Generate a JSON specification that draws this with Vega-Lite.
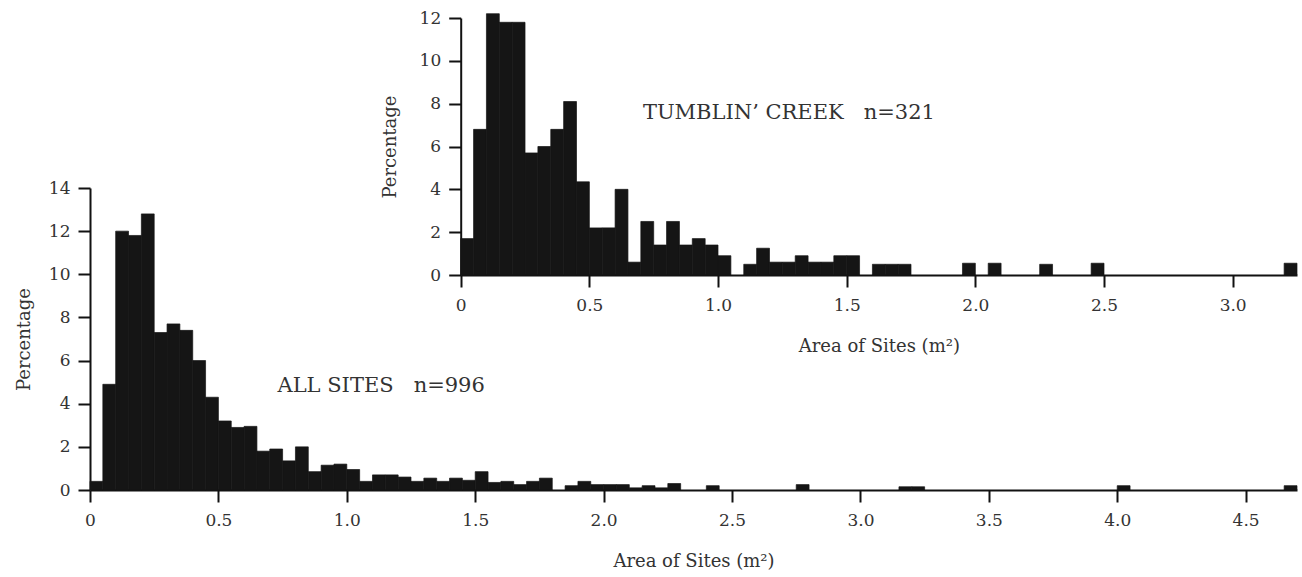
{
  "$schema": "https://vega.github.io/schema/vega-lite/v6.json",
  "width": 1207,
  "height": 472,
  "autosize": "none",
  "padding": {"left": 90, "top": 18, "right": 5, "bottom": 87},
  "background": "white",
  "config": {
    "view": {"stroke": null},
    "font": "DejaVu Serif",
    "axis": {
      "grid": false,
      "domainColor": "#111111",
      "domainWidth": 2,
      "tickColor": "#111111",
      "tickWidth": 2,
      "tickSize": 12,
      "labelFont": "DejaVu Serif",
      "labelFontSize": 17,
      "labelColor": "#333333",
      "labelFlush": false,
      "titleFont": "DejaVu Serif",
      "titleFontSize": 18,
      "titleFontWeight": "normal",
      "titleColor": "#333333"
    }
  },
  "datasets": {
    "all": [
      {"start": 0.00, "end": 0.05, "pct": 0.4},
      {"start": 0.05, "end": 0.10, "pct": 4.9},
      {"start": 0.10, "end": 0.15, "pct": 12.0},
      {"start": 0.15, "end": 0.20, "pct": 11.8},
      {"start": 0.20, "end": 0.25, "pct": 12.8},
      {"start": 0.25, "end": 0.30, "pct": 7.3},
      {"start": 0.30, "end": 0.35, "pct": 7.7},
      {"start": 0.35, "end": 0.40, "pct": 7.4},
      {"start": 0.40, "end": 0.45, "pct": 6.0},
      {"start": 0.45, "end": 0.50, "pct": 4.3},
      {"start": 0.50, "end": 0.55, "pct": 3.2},
      {"start": 0.55, "end": 0.60, "pct": 2.9},
      {"start": 0.60, "end": 0.65, "pct": 2.95},
      {"start": 0.65, "end": 0.70, "pct": 1.8},
      {"start": 0.70, "end": 0.75, "pct": 1.9},
      {"start": 0.75, "end": 0.80, "pct": 1.35},
      {"start": 0.80, "end": 0.85, "pct": 2.0},
      {"start": 0.85, "end": 0.90, "pct": 0.85},
      {"start": 0.90, "end": 0.95, "pct": 1.15},
      {"start": 0.95, "end": 1.00, "pct": 1.2},
      {"start": 1.00, "end": 1.05, "pct": 0.95},
      {"start": 1.05, "end": 1.10, "pct": 0.4},
      {"start": 1.10, "end": 1.15, "pct": 0.7},
      {"start": 1.15, "end": 1.20, "pct": 0.7},
      {"start": 1.20, "end": 1.25, "pct": 0.6},
      {"start": 1.25, "end": 1.30, "pct": 0.4},
      {"start": 1.30, "end": 1.35, "pct": 0.55},
      {"start": 1.35, "end": 1.40, "pct": 0.4},
      {"start": 1.40, "end": 1.45, "pct": 0.55},
      {"start": 1.45, "end": 1.50, "pct": 0.45},
      {"start": 1.50, "end": 1.55, "pct": 0.85},
      {"start": 1.55, "end": 1.60, "pct": 0.35},
      {"start": 1.60, "end": 1.65, "pct": 0.4},
      {"start": 1.65, "end": 1.70, "pct": 0.25},
      {"start": 1.70, "end": 1.75, "pct": 0.4},
      {"start": 1.75, "end": 1.80, "pct": 0.55},
      {"start": 1.85, "end": 1.90, "pct": 0.2},
      {"start": 1.90, "end": 1.95, "pct": 0.4},
      {"start": 1.95, "end": 2.00, "pct": 0.25},
      {"start": 2.00, "end": 2.05, "pct": 0.25},
      {"start": 2.05, "end": 2.10, "pct": 0.25},
      {"start": 2.10, "end": 2.15, "pct": 0.1},
      {"start": 2.15, "end": 2.20, "pct": 0.2},
      {"start": 2.20, "end": 2.25, "pct": 0.1},
      {"start": 2.25, "end": 2.30, "pct": 0.3},
      {"start": 2.40, "end": 2.45, "pct": 0.2},
      {"start": 2.75, "end": 2.80, "pct": 0.25},
      {"start": 3.15, "end": 3.20, "pct": 0.15},
      {"start": 3.20, "end": 3.25, "pct": 0.15},
      {"start": 4.00, "end": 4.05, "pct": 0.2},
      {"start": 4.65, "end": 4.70, "pct": 0.2}
    ],
    "tc": [
      {"start": 0.00, "end": 0.05, "pct": 1.7},
      {"start": 0.05, "end": 0.10, "pct": 6.8},
      {"start": 0.10, "end": 0.15, "pct": 12.2},
      {"start": 0.15, "end": 0.20, "pct": 11.8},
      {"start": 0.20, "end": 0.25, "pct": 11.8},
      {"start": 0.25, "end": 0.30, "pct": 5.7},
      {"start": 0.30, "end": 0.35, "pct": 6.0},
      {"start": 0.35, "end": 0.40, "pct": 6.8},
      {"start": 0.40, "end": 0.45, "pct": 8.1},
      {"start": 0.45, "end": 0.50, "pct": 4.35},
      {"start": 0.50, "end": 0.55, "pct": 2.2},
      {"start": 0.55, "end": 0.60, "pct": 2.2},
      {"start": 0.60, "end": 0.65, "pct": 4.0},
      {"start": 0.65, "end": 0.70, "pct": 0.6},
      {"start": 0.70, "end": 0.75, "pct": 2.5},
      {"start": 0.75, "end": 0.80, "pct": 1.4},
      {"start": 0.80, "end": 0.85, "pct": 2.5},
      {"start": 0.85, "end": 0.90, "pct": 1.4},
      {"start": 0.90, "end": 0.95, "pct": 1.7},
      {"start": 0.95, "end": 1.00, "pct": 1.4},
      {"start": 1.00, "end": 1.05, "pct": 0.9},
      {"start": 1.10, "end": 1.15, "pct": 0.5},
      {"start": 1.15, "end": 1.20, "pct": 1.25},
      {"start": 1.20, "end": 1.25, "pct": 0.6},
      {"start": 1.25, "end": 1.30, "pct": 0.6},
      {"start": 1.30, "end": 1.35, "pct": 0.9},
      {"start": 1.35, "end": 1.40, "pct": 0.6},
      {"start": 1.40, "end": 1.45, "pct": 0.6},
      {"start": 1.45, "end": 1.50, "pct": 0.9},
      {"start": 1.50, "end": 1.55, "pct": 0.9},
      {"start": 1.60, "end": 1.65, "pct": 0.5},
      {"start": 1.65, "end": 1.70, "pct": 0.5},
      {"start": 1.70, "end": 1.75, "pct": 0.5},
      {"start": 1.95, "end": 2.00, "pct": 0.55},
      {"start": 2.05, "end": 2.10, "pct": 0.55},
      {"start": 2.25, "end": 2.30, "pct": 0.5},
      {"start": 2.45, "end": 2.50, "pct": 0.55},
      {"start": 3.20, "end": 3.25, "pct": 0.55}
    ]
  },
  "layer": [
    {
      "layer": [
        {
          "data": {"name": "all"},
          "mark": {"type": "bar", "color": "#151515", "stroke": "#151515", "strokeWidth": 0.7},
          "encoding": {
            "x": {
              "field": "start",
              "type": "quantitative",
              "scale": {"domain": [0, 4.7], "range": [0, 1207], "nice": false, "zero": false},
              "axis": {
                "orient": "bottom",
                "values": [0, 0.5, 1, 1.5, 2, 2.5, 3, 3.5, 4, 4.5],
                "labelExpr": "datum.value == 0 ? '0' : format(datum.value, '.1f')",
                "labelPadding": 10,
                "title": "Area of Sites (m²)",
                "titlePadding": 24
              }
            },
            "x2": {"field": "end"},
            "y": {
              "field": "pct",
              "type": "quantitative",
              "scale": {"domain": [0, 14], "range": [472, 170], "nice": false},
              "axis": {
                "orient": "left",
                "values": [0, 2, 4, 6, 8, 10, 12, 14],
                "labelPadding": 8,
                "title": "Percentage",
                "titlePadding": 15
              }
            },
            "y2": {"datum": 0}
          }
        },
        {
          "data": {"values": [{"label": "ALL SITES\u00a0\u00a0 n=996"}]},
          "mark": {"type": "text", "align": "left", "baseline": "middle", "fontSize": 21, "font": "DejaVu Serif", "color": "#333333"},
          "encoding": {
            "x": {"datum": 0.73, "type": "quantitative"},
            "y": {"datum": 4.8, "type": "quantitative"},
            "text": {"field": "label"}
          }
        }
      ]
    },
    {
      "layer": [
        {
          "data": {"name": "tc"},
          "mark": {"type": "bar", "color": "#151515", "stroke": "#151515", "strokeWidth": 0.7},
          "encoding": {
            "x": {
              "field": "start",
              "type": "quantitative",
              "scale": {"domain": [0, 3.25], "range": [370.7, 1207], "nice": false, "zero": false},
              "axis": {
                "orient": "bottom",
                "offset": -215,
                "values": [0, 0.5, 1, 1.5, 2, 2.5, 3],
                "labelExpr": "datum.value == 0 ? '0' : format(datum.value, '.1f')",
                "labelPadding": 10,
                "title": "Area of Sites (m²)",
                "titlePadding": 24
              }
            },
            "x2": {"field": "end"},
            "y": {
              "field": "pct",
              "type": "quantitative",
              "scale": {"domain": [0, 12], "range": [257, 0], "nice": false},
              "axis": {
                "orient": "left",
                "offset": -370.7,
                "values": [0, 2, 4, 6, 8, 10, 12],
                "labelPadding": 8,
                "title": "Percentage",
                "titlePadding": 20
              }
            },
            "y2": {"datum": 0}
          }
        },
        {
          "data": {"values": [{"label": "TUMBLIN’ CREEK\u00a0\u00a0 n=321"}]},
          "mark": {"type": "text", "align": "left", "baseline": "middle", "fontSize": 21, "font": "DejaVu Serif", "color": "#333333"},
          "encoding": {
            "x": {"datum": 0.708, "type": "quantitative"},
            "y": {"datum": 7.57, "type": "quantitative"},
            "text": {"field": "label"}
          }
        }
      ]
    }
  ],
  "resolve": {
    "scale": {"x": "independent", "y": "independent"},
    "axis": {"x": "independent", "y": "independent"}
  }
}
